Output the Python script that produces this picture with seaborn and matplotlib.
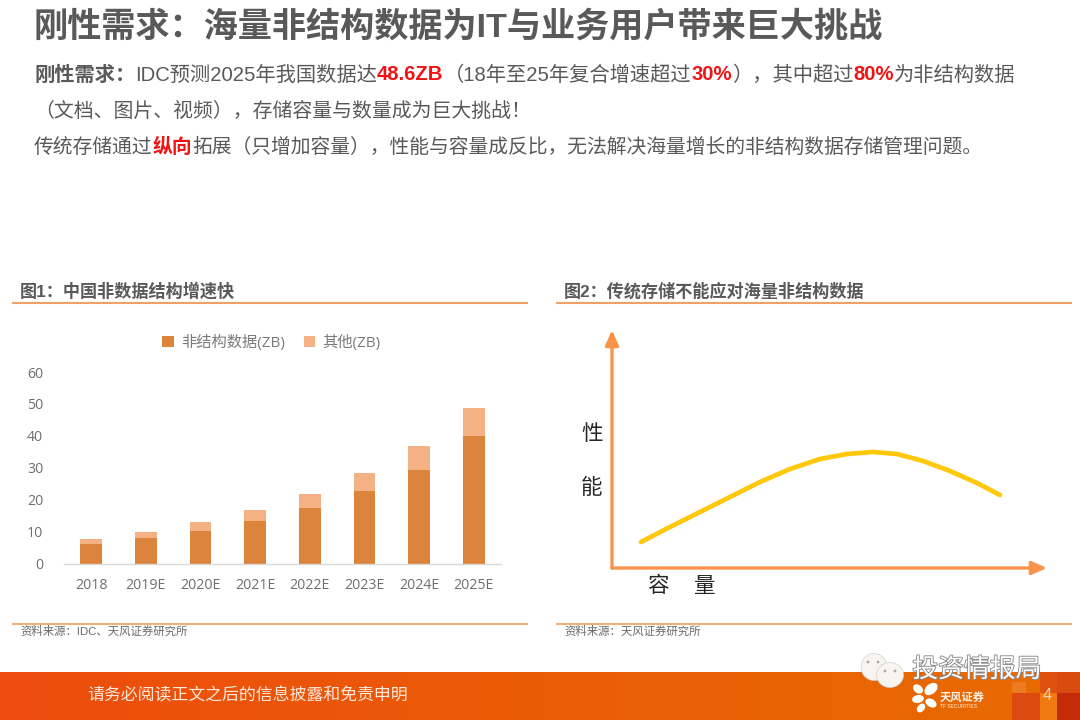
import numpy as np
import pandas as pd
import matplotlib
matplotlib.use("Agg")
import matplotlib.pyplot as plt
import matplotlib.patheffects as pe
from matplotlib.patches import Rectangle, Ellipse, Circle
import seaborn as sns

years = ["2018", "2019E", "2020E", "2021E", "2022E", "2023E", "2024E", "2025E"]
unstructured = [6.2, 8.0, 10.3, 13.4, 17.4, 22.7, 29.4, 40.0]
other = [1.5, 2.0, 2.7, 3.4, 4.4, 5.6, 7.3, 8.6]
capacity = [29, 58, 88, 118, 148, 178, 208, 235, 261, 285, 311, 338, 365, 388]
performance = [26, 41, 56, 71, 86, 99, 109, 114, 116, 114, 107, 97, 85, 73]

TITLE = "刚性需求：海量非结构数据为IT与业务用户带来巨大挑战"
GREY, RED, RULE = "#595959", "#f01414", "#f0a060"
sns.set_theme(style="white")
FONT = ["Liberation Sans", "Noto Sans CJK SC", "DejaVu Sans"]
TICK = ["Open Sans", "Noto Sans CJK SC", "DejaVu Sans"]
plt.rcParams["font.family"] = FONT

fig = plt.figure(figsize=(10.8, 7.2), dpi=100, facecolor="white")
W, H = 1080, 720

def box(l, t, r, b, **kw):
    return fig.add_axes([l / W, 1 - b / H, (r - l) / W, (b - t) / H], **kw)

bg = box(0, 0, W, H)
bg.set_xlim(0, W); bg.set_ylim(H, 0); bg.axis("off")

# footer band
grad = np.linspace(0, 1, 256)[None, :, None]
c0, c1 = np.array([0.93, 0.30, 0.05]), np.array([0.91, 0.42, 0.0])
bg.imshow(c0 + (c1 - c0) * grad, extent=(0, W, 720, 672), aspect="auto", zorder=1)
bg.set_xlim(0, W); bg.set_ylim(H, 0)
for x, y, w, h, c in [(1012, 693, 28, 27, "#dc4a10"), (1040, 672, 17, 21, "#e0500f"),
                      (1040, 693, 17, 27, "#ee7a10"), (1057, 672, 23, 21, "#d84a10"),
                      (1057, 693, 23, 27, "#c42a08"), (1012, 682, 14, 11, "#ec7a20")]:
    bg.add_patch(Rectangle((x, y), w, h, fc=c, ec="none", zorder=2))
bg.text(87, 695, "请务必阅读正文之后的信息披露和免责申明", fontsize=12.2, color="#fde8dc",
        va="center", zorder=3)
bg.text(1047, 696, "4", fontsize=12, color="#f8d0a8", ha="center", va="center", zorder=3)

# footer logo
for dx, dy, w, h, a in [(-7, -9, 11, 8, 40), (6, -9, 15, 10, -40), (-7, 1, 12, 8, -10),
                        (6, 5, 12, 8, 30), (-4, 10, 10, 7, -50)]:
    bg.add_patch(Ellipse((925 + dx, 698 + dy), w, h, angle=a, fc="white", ec="none", zorder=3))
bg.text(940, 697, "天风证券", fontsize=8.1, fontweight="bold", color="#fff2e6", va="center", zorder=3)
bg.text(940, 706, "TF SECURITIES", fontsize=3.6, color="#fff2e6", va="center", zorder=3)

# watermark
for x, y, w, h in [(874, 667, 26, 27), (890, 675, 27, 25)]:
    bg.add_patch(Ellipse((x, y), w, h, fc="#f8f4f0", ec="#d0d0d0", lw=0.5, zorder=4))
for x, y in [(868, 662), (878, 662), (885, 671), (895, 671)]:
    bg.add_patch(Circle((x, y), 1.4, fc="#b0a8a0", ec="none", zorder=5))
bg.text(977, 670, "投资情报局", fontsize=18.6, color="white", ha="center", va="center", zorder=5,
        path_effects=[pe.withStroke(linewidth=1.3, foreground="#8a8a8a")])

# headline
bg.text(34, 27, TITLE, fontsize=24.6, fontweight="bold", color=GREY, va="center")

rend = fig.canvas.get_renderer()
def rich(x, y, parts, size):
    for s, color, bold in parts:
        t = bg.text(x, y, s, fontsize=size, color=color, va="center",
                    fontweight="bold" if bold else "normal")
        x = bg.transData.inverted().transform(t.get_window_extent(rend).get_points())[1, 0]

rich(34, 75, [("刚性需求：", GREY, True), ("IDC预测2025年我国数据达", GREY, False), ("48.6ZB", RED, True),
              ("（18年至25年复合增速超过", GREY, False), ("30%", RED, True),
              ("），其中超过", GREY, False), ("80%", RED, True), ("为非结构数据", GREY, False)], 14.6)
rich(34, 111, [("（文档、图片、视频），存储容量与数量成为巨大挑战！", GREY, False)], 14.3)
rich(34, 147, [("传统存储通过", GREY, False), ("纵向", RED, True),
               ("拓展（只增加容量），性能与容量成反比，无法解决海量增长的非结构数据存储管理问题。", GREY, False)], 14.25)

# panel heads and rules
for x, s in [(20, "图1：中国非数据结构增速快"), (564, "图2：传统存储不能应对海量非结构数据")]:
    bg.text(x, 291, s, fontsize=12.3, fontweight="bold", color=GREY, va="center")
for x0, x1 in [(12, 528), (556, 1072)]:
    bg.plot([x0, x1], [303, 303], color=RULE, lw=1.5, solid_capstyle="butt")
    bg.plot([x0, x1], [623.5, 623.5], color=RULE, lw=1.2, solid_capstyle="butt")
bg.text(20, 631, "资料来源：IDC、天风证券研究所", fontsize=8.2, color="#6a6a6a", va="center")
bg.text(564, 631, "资料来源：天风证券研究所", fontsize=8.2, color="#6a6a6a", va="center")

# bar chart
df = pd.DataFrame({"year": years, "unstructured": unstructured, "other": other})
df["total"] = df["unstructured"] + df["other"]
ax = box(64, 372, 501, 563.5)
ax.patch.set_alpha(0)
sns.barplot(data=df, x="year", y="total", color="#f4b183", saturation=1, width=0.4,
            ax=ax, label="其他(ZB)", linewidth=0)
sns.barplot(data=df, x="year", y="unstructured", color="#dd843c", saturation=1, width=0.4,
            ax=ax, label="非结构数据(ZB)", linewidth=0)
ax.set_xlim(-0.5, 7.5); ax.set_ylim(0, 60)
ax.set_xlabel(""); ax.set_ylabel("")
ax.set_yticks(range(0, 61, 10))
ax.tick_params(axis="both", length=0, labelsize=10.2, labelcolor="#6e6e6e")
ax.tick_params(axis="x", pad=10.5)
ax.tick_params(axis="y", pad=15)
for lab in ax.get_xticklabels() + ax.get_yticklabels():
    lab.set_fontfamily(TICK)
sns.despine(ax=ax, left=True)
ax.spines["bottom"].set_color("#d9d9d9"); ax.spines["bottom"].set_linewidth(1)
hs, ls = ax.get_legend_handles_labels()
ax.legend(hs[::-1], ls[::-1], loc="lower center", bbox_to_anchor=(0.475, 1.04), ncol=2, frameon=False,
          labelcolor="#7a7a7a", handlelength=0.75, handleheight=0.75,
          handletextpad=0.5, columnspacing=1.2, prop={"family": TICK, "size": 11})

# capacity / performance sketch
ax2 = box(612, 330, 1047, 568)
ax2.patch.set_alpha(0)
sns.lineplot(x=capacity, y=performance, color="#ffc80a", lw=3.4, ax=ax2, estimator=None, sort=False)
ax2.set_xlim(0, 435); ax2.set_ylim(0, 238)
ax2.set_xticks([]); ax2.set_yticks([])
ax2.set_xlabel(""); ax2.set_ylabel("")
sns.despine(ax=ax2, left=True, bottom=True)
arrow = dict(arrowstyle="-|>,head_width=0.4,head_length=0.9", color="#f8934a", lw=2.4,
             shrinkA=0, shrinkB=0, mutation_scale=10)
ax2.annotate("", xy=(0, 1), xytext=(0, 0), xycoords="axes fraction", arrowprops=arrow)
ax2.annotate("", xy=(1, 0), xytext=(0, 0), xycoords="axes fraction", arrowprops=arrow)
for x, y, s in [(592, 434, "性"), (592, 489, "能"), (658, 587, "容"), (705, 587, "量")]:
    bg.text(x, y, s, fontsize=15.5, color="#262626", ha="center", va="center")

fig.savefig("out.png", dpi=100)
